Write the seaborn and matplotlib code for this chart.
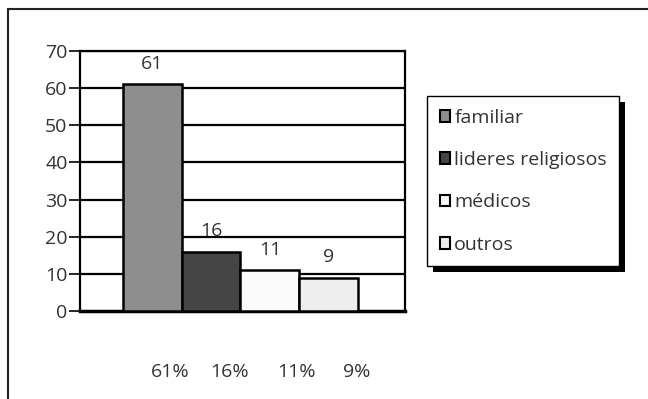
import matplotlib
matplotlib.use("Agg")
import matplotlib.pyplot as plt
from matplotlib.patches import Rectangle
from matplotlib.lines import Line2D
import seaborn as sns
import pandas as pd

categories = ["familiar", "lideres religiosos", "médicos", "outros"]
values = [61, 16, 11, 9]
pct_labels = ["61%", "16%", "11%", "9%"]
colors = ["#8e8e8e", "#454545", "#fbfbfb", "#eeeeee"]
yticks = [0, 10, 20, 30, 40, 50, 60, 70]

sns.set_style("white")
plt.rcParams["font.family"] = ["Open Sans", "DejaVu Sans"]
TXT = "#333333"

W, H = 648, 399
fig = plt.figure(figsize=(W / 100, H / 100), dpi=100)

def fx(px):
    return px / W

def fy(py):
    return 1 - py / H

ax = fig.add_axes([fx(80), fy(311), fx(405) - fx(80), fy(51) - fy(311)])

df = pd.DataFrame({"grp": ["g"] * 4, "cat": categories, "val": values})
sns.barplot(data=df, x="grp", y="val", hue="cat", hue_order=categories,
            palette=colors, edgecolor="black", linewidth=1.8, saturation=1,
            width=0.8, legend=False, ax=ax, zorder=3)

ax.set_xlim(-0.546, 0.560)
ax.set_ylim(0, 70)
ax.set_yticks(yticks)
ax.set_yticklabels([str(v) for v in yticks], fontsize=14, color=TXT)
ax.set_xticks([])
ax.set_xlabel("")
ax.set_ylabel("")
for v in yticks[1:]:
    ax.axhline(v, color="black", lw=1.6, zorder=1)
for s in ax.spines.values():
    s.set_color("black")
    s.set_linewidth(1.6)
ax.spines["bottom"].set_linewidth(2.5)
ax.tick_params(axis="y", left=True, length=8, width=1.2, color="black", pad=1)

# value labels above bars
for c in ax.containers:
    ax.bar_label(c, labels=[str(int(v)) for v in c.datavalues], padding=8,
                 fontsize=14, color=TXT)

# percent labels below
pct_x = [170, 230, 296, 357]
for x, t in zip(pct_x, pct_labels):
    fig.text(fx(x), fy(372), t, ha="center", va="center", fontsize=14, color=TXT)

# legend
handles = [Rectangle((0, 0), 1, 1, facecolor=c, edgecolor="black", lw=1.5) for c in colors]
leg = fig.legend(handles, categories, loc="upper left",
                 bbox_to_anchor=(fx(427), fy(96)), bbox_transform=fig.transFigure,
                 fontsize=14, frameon=True, fancybox=False, labelcolor=TXT,
                 framealpha=1.0,
                 handlelength=0.55, handleheight=0.55, handletextpad=0.2,
                 labelspacing=1.25, borderpad=0.65, borderaxespad=0)
leg.get_frame().set_edgecolor("black")
leg.get_frame().set_linewidth(1.0)
leg.get_frame().set_facecolor("white")
leg.set_zorder(5)

fig.canvas.draw()
bb = leg.get_window_extent()
x0, y0, w, h = bb.x0 / W, bb.y0 / H, bb.width / W, bb.height / H
fig.patches.append(Rectangle((x0 + 6 / W, y0 - 6 / H), w, h, transform=fig.transFigure,
                             facecolor="black", edgecolor="none", zorder=4))

# outer frame (left and top lines)
fig.lines.append(Line2D([fx(8), fx(8)], [0, fy(9)], transform=fig.transFigure,
                        color="#222222", lw=1.5))
fig.lines.append(Line2D([fx(8), 1], [fy(9), fy(9)], transform=fig.transFigure,
                        color="#222222", lw=1.5))

fig.savefig("out.png", dpi=100)
